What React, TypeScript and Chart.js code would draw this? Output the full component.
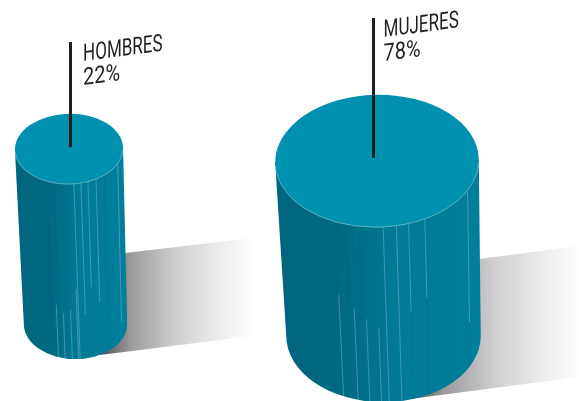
import { useEffect, useRef } from "react";
import { Chart, registerables } from "chart.js";

Chart.register(...registerables);

const categories = ["HOMBRES", "MUJERES"];
const shares = [22, 78];

// Drawing style per cylinder (not data)
const BODY_HEIGHT = 175;
const LINE_SCALE = [0.71, 0.83];
const looks = [
  {
    leaderDx: 1.5, leaderTop: 42, leaderBottom: 147, textDx: 14,
    shadow: { endX: 252, topStart: [125, 253], topEnd: [252, 238], botEnd: [252, 336], botStart: [100, 355] },
    upper: [[0.09, 0, 1], [0.22, 0, 0.75], [0.35, 0, 0.6], [0.5, 0, 0.7], [0.9, 0, 0.9]],
    lower: [[-0.33, 0.7, 1], [-0.2, 0.74, 1], [-0.06, 0.72, 1], [0.06, 0.6, 1]],
    dark: [[-0.42, 0, 1], [-0.28, 0, 1], [-0.14, 0, 1], [0.65, 0, 1]],
  },
  {
    leaderDx: -3.5, leaderTop: 18, leaderBottom: 158, textDx: 11.5,
    shadow: { endX: 579, topStart: [479, 259], topEnd: [579, 246], botEnd: [579, 377], botStart: [410, 399] },
    upper: [[0.06, 0, 1], [0.19, 0, 1], [0.31, 0, 0.5], [0.47, 0, 0.45], [0.89, 0, 0.75]],
    lower: [[-0.41, 0.42, 1], [-0.26, 0.48, 1], [-0.14, 0.53, 1], [-0.02, 0.58, 1]],
    dark: [[-0.43, 0, 0.45], [-0.31, 0, 0.5], [-0.18, 0, 0.55], [0.31, 0.5, 1], [0.47, 0.45, 1], [0.89, 0.75, 1]],
  },
];

const cylinderPlugin = {
  id: "cylinders",
  afterDatasetsDraw(chart: any) {
    const ctx: CanvasRenderingContext2D = chart.ctx;
    const meta = chart.getDatasetMeta(0);
    meta.data.forEach((el: any, i: number) => {
      const look = looks[i];
      const r: number = el.options.radius;
      const cx: number = el.x;
      const cy: number = el.y;
      const ry = r * 0.65;
      const bx = cx + 6.5;
      const by = cy + BODY_HEIGHT;
      const brx = r * 0.955;
      const tilt = -0.02;

      // shadow
      const s = look.shadow;
      const sg = ctx.createLinearGradient(s.botStart[0], 0, s.endX, 0);
      sg.addColorStop(0, "#505054");
      sg.addColorStop(0.2, "#9a9a9d");
      sg.addColorStop(0.5, "#cfcfd1");
      sg.addColorStop(0.8, "#eeeeef");
      sg.addColorStop(1, "#fdfdfd");
      ctx.save();
      ctx.fillStyle = sg;
      ctx.beginPath();
      ctx.moveTo(s.topStart[0], s.topStart[1]);
      ctx.lineTo(s.topEnd[0], s.topEnd[1]);
      ctx.lineTo(s.botEnd[0], s.botEnd[1]);
      ctx.lineTo(s.botStart[0], s.botStart[1]);
      ctx.closePath();
      ctx.fill();
      ctx.restore();

      // body
      const grad = ctx.createLinearGradient(cx - r, 0, cx + r, 0);
      grad.addColorStop(0, "#00657f");
      grad.addColorStop(0.3, "#00697f");
      grad.addColorStop(0.6, "#007a97");
      grad.addColorStop(1, "#007e9b");
      ctx.save();
      ctx.fillStyle = grad;
      ctx.beginPath();
      ctx.moveTo(cx - r, cy + 1);
      ctx.lineTo(bx - brx, by);
      ctx.ellipse(bx, by, brx, ry, 0, Math.PI, 0, true);
      ctx.lineTo(cx + r, cy - 1);
      ctx.closePath();
      ctx.fill();

      // facet streaks follow the curved surface
      const streak = (u: number, t0: number, t1: number, color: string) => {
        const at = (t: number) => {
          const x = cx + (bx - cx) * t + u * (r + (brx - r) * t);
          const y = cy + BODY_HEIGHT * t + ry * Math.sqrt(1 - u * u);
          return [x, y];
        };
        const a = at(t0);
        const b = at(t1);
        ctx.strokeStyle = color;
        ctx.lineWidth = 0.8;
        ctx.beginPath();
        ctx.moveTo(a[0], a[1]);
        ctx.lineTo(b[0], b[1]);
        ctx.stroke();
      };
      look.dark.forEach(([u, a, b]) => streak(u, a, b, "rgba(0,70,90,0.18)"));
      look.upper.forEach(([u, a, b]) => streak(u, a, b, "rgba(170,215,228,0.45)"));
      look.lower.forEach(([u, a, b]) => streak(u, a, b, "rgba(170,215,228,0.45)"));

      // top face
      ctx.fillStyle = "#0090b0";
      ctx.strokeStyle = "rgba(190,225,235,0.7)";
      ctx.lineWidth = 0.7;
      ctx.beginPath();
      ctx.ellipse(cx, cy, r, ry, tilt, 0, Math.PI * 2);
      ctx.fill();
      ctx.beginPath();
      ctx.ellipse(cx, cy, r, ry, tilt, 0.05, Math.PI - 0.05);
      ctx.stroke();

      // leader
      ctx.strokeStyle = "#231f20";
      ctx.lineWidth = 3;
      ctx.beginPath();
      ctx.moveTo(cx + look.leaderDx, look.leaderTop);
      ctx.lineTo(cx + look.leaderDx, look.leaderBottom);
      ctx.stroke();

      // label, sheared to sit on the same plane
      ctx.fillStyle = "#231f20";
      ctx.font = "400 24px Roboto";
      ctx.textBaseline = "alphabetic";
      ctx.textAlign = "left";
      const tx = cx + look.leaderDx + look.textDx - 1.5;
      const ty = look.leaderTop + 19;
      const lines = [categories[i], `${shares[i]}%`];
      lines.forEach((txt, k) => {
        const sx = LINE_SCALE[k];
        ctx.save();
        ctx.transform(sx, -0.13 * sx, 0, 1, tx, ty + k * 24);
        ctx.fillText(txt, 0, 0);
        ctx.restore();
      });
      ctx.restore();
    });
  },
};

export default function App() {
  const ref = useRef<HTMLCanvasElement | null>(null);
  useEffect(() => {
    const chart = new Chart(ref.current as HTMLCanvasElement, {
      type: "bubble",
      data: {
        labels: categories,
        datasets: [
          {
            label: "Porcentaje",
            data: shares.map((v, i) => ({ x: i, y: v, r: Math.sqrt(v) * 11.53 })),
            backgroundColor: "rgba(0,0,0,0)",
            borderColor: "rgba(0,0,0,0)",
            borderWidth: 0,
          },
        ],
      },
      options: {
        responsive: false,
        animation: false,
        layout: { padding: 0, autoPadding: false },
        plugins: { legend: { display: false }, tooltip: { enabled: false } },
        scales: {
          x: { type: "linear", display: false, min: -69 / 308, max: 510 / 308, bounds: "data" },
          y: { type: "linear", display: false, reverse: true, min: -673, max: 1198, bounds: "data" },
        },
      },
      plugins: [cylinderPlugin],
    } as any);
    return () => chart.destroy();
  }, []);
  return (
    <div style={{ position: "fixed", left: 0, top: 0, width: 579, height: 401, background: "#fff" }}>
      <canvas ref={ref} width={579} height={401} style={{ display: "block" }} />
    </div>
  );
}
